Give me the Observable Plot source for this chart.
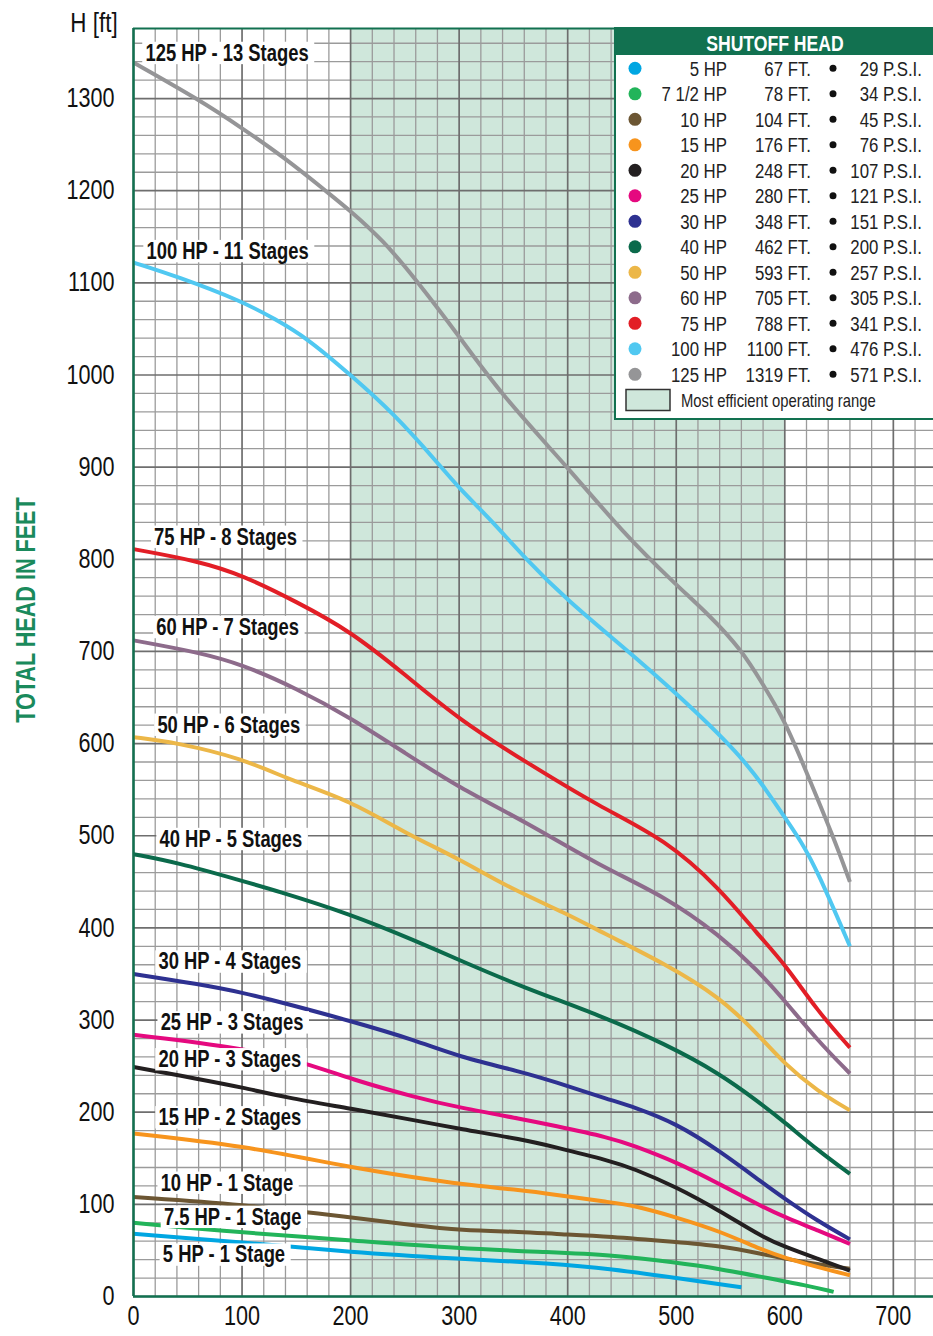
<!DOCTYPE html>
<html>
<head>
<meta charset="utf-8">
<script src="https://cdn.jsdelivr.net/npm/d3@7"></script>
<script src="https://cdn.jsdelivr.net/npm/@observablehq/plot@0.6"></script>
<style>
  html, body { margin: 0; padding: 0; background: #fff; }
  #chart { position: relative; width: 933px; height: 1336px; }
</style>
</head>
<body>
<div id="chart"></div>
<script>
// ---------- data (flow in GPM, head in feet) ----------
const series = ["5 HP","7.5 HP","10 HP","15 HP","20 HP","25 HP","30 HP","40 HP","50 HP","60 HP","75 HP","100 HP","125 HP"];
const colors = ["#00a6e2","#22b45a","#6c5633","#f7941d","#231f20","#e5097f","#2e3191","#0b6a4b","#ecb748","#8d6b8b","#e21e26","#50c8f1","#959597"];

const hp5   = [[0,68],[100,59],[200,48],[300,41],[385,36],[440,30],[500,20],[560,10]];
const hp7_5 = [[0,80],[70,72],[200,61],[300,52],[385,48],[440,45],[500,37],[540,30],[580,21],[620,12],[645,5]];
const hp10  = [[0,108],[100,100],[200,86],[260,77],[300,72],[360,70],[385,68],[440,65],[500,59],[540,55],[580,46],[600,41],[630,35],[660,30]];
const hp15  = [[0,177],[100,164],[200,140],[260,129],[300,122],[360,115],[385,111],[440,102],[460,99],[500,86],[540,71],[580,50],[600,42],[630,32],[660,23]];
const hp20  = [[0,249],[60,236],[100,227],[140,216],[200,204],[260,191],[300,182],[360,170],[385,163],[440,147],[460,139],[500,119],[540,93],[580,64],[600,54],[630,41],[660,28]];
const hp25  = [[0,284],[100,270],[160,253],[200,236],[260,216],[300,205],[360,192],[385,186],[440,172],[460,164],[500,146],[540,122],[580,97],[600,86],[630,72],[660,57]];
const hp30  = [[0,350],[60,339],[100,330],[140,318],[200,299],[260,278],[300,260],[360,243],[385,234],[440,213],[460,206],[500,188],[540,158],[580,123],[600,106],[630,82],[660,62]];
const hp40  = [[0,480],[40,471],[100,451],[130,441],[200,415],[260,386],[300,365],[360,335],[430,305],[490,274],[540,242],[575,212],[600,189],[630,159],[660,133]];
const hp50  = [[0,607],[40,601],[100,584],[145,560],[200,538],[250,503],[300,475],[345,444],[400,415],[430,396],[490,361],[540,325],[575,285],[600,252],[630,223],[660,202]];
const hp60  = [[0,712],[60,699],[100,686],[150,660],[200,628],[250,590],[300,552],[360,516],[430,467],[490,434],[540,392],[575,354],[600,321],[630,278],[660,242]];
const hp75  = [[0,811],[60,798],[100,783],[150,754],[200,722],[250,675],[300,626],[360,581],[430,531],[490,496],[540,443],[575,393],[600,361],[630,310],[660,270]];
const hp100 = [[0,1122],[40,1107],[100,1080],[130,1061],[160,1040],[200,1000],[240,958],[280,905],[300,877],[330,842],[360,802],[400,755],[450,706],[500,655],[560,587],[585,546],[600,520],[615,494],[630,462],[660,380]];
const hp125 = [[0,1339],[60,1299],[100,1268],[140,1235],[180,1197],[200,1178],[230,1146],[260,1104],[300,1042],[340,977],[400,900],[450,830],[500,772],[530,740],[560,702],[580,664],[600,625],[620,569],[645,498],[660,450]];
const curveList = [hp5,hp7_5,hp10,hp15,hp20,hp25,hp30,hp40,hp50,hp60,hp75,hp100,hp125];

// curve labels (anchored in data coordinates)
const labelText = ["125 HP - 13 Stages","100 HP - 11 Stages","75 HP - 8 Stages","60 HP - 7 Stages","50 HP - 6 Stages","40 HP - 5 Stages","30 HP - 4 Stages","25 HP - 3 Stages","20 HP - 3 Stages","15 HP - 2 Stages","10 HP - 1 Stage","7.5 HP - 1 Stage","5 HP - 1 Stage"];
const labelX = [11,12,19,21,22,24,23,25,23,23,25,28,27];
const labelY = [1349,1134,824,726,620,496,363,297,257,194,123,86,45];

// legend table
const legendHP  = ["5 HP","7 1/2 HP","10 HP","15 HP","20 HP","25 HP","30 HP","40 HP","50 HP","60 HP","75 HP","100 HP","125 HP"];
const legendFT  = ["67 FT.","78 FT.","104 FT.","176 FT.","248 FT.","280 FT.","348 FT.","462 FT.","593 FT.","705 FT.","788 FT.","1100 FT.","1319 FT."];
const legendPSI = ["29 P.S.I.","34 P.S.I.","45 P.S.I.","76 P.S.I.","107 P.S.I.","121 P.S.I.","151 P.S.I.","200 P.S.I.","257 P.S.I.","305 P.S.I.","341 P.S.I.","476 P.S.I.","571 P.S.I."];

const efficientRange = [200, 600];
const xDomain = [0, 737];
const yDomain = [0, 1376];
const xTicks = [0,100,200,300,400,500,600,700];
const yTicks = [0,100,200,300,400,500,600,700,800,900,1000,1100,1200,1300];

// ---------- build ----------
const GREEN = "#127150";
const SHADE = "#cfe7db";
const FONT = "'Liberation Sans', Arial, sans-serif";
const CONDENSE = 0.8;

const rows = curveList.flatMap((c, i) => c.map(([q, h]) => ({series: series[i], q, h})));
const labels = labelText.map((t, i) => ({t, x: labelX[i], y: labelY[i]}));
const gridX = d3.range(0, xDomain[1], 20);
const gridY = d3.range(0, yDomain[1], 20);

const chart = Plot.plot({
  width: 933,
  height: 1336,
  marginLeft: 133,
  marginRight: 0,
  marginTop: 28,
  marginBottom: 40,
  style: {fontFamily: FONT, fontSize: "27px", color: "#111", background: "white"},
  x: {domain: xDomain},
  y: {domain: yDomain},
  color: {domain: series, range: colors},
  marks: [
    Plot.rect([efficientRange], {x1: d => d[0], x2: d => d[1], y1: yDomain[0], y2: yDomain[1], fill: SHADE}),
    Plot.ruleX(gridX.filter(d => d % 100 !== 0), {stroke: "#9b9b9b", strokeWidth: 1.3}),
    Plot.ruleY(gridY.filter(d => d % 100 !== 0), {stroke: "#9b9b9b", strokeWidth: 1.3}),
    Plot.ruleX(gridX.filter(d => d % 100 === 0), {stroke: "#6e6e6e", strokeWidth: 1.7}),
    Plot.ruleY(gridY.filter(d => d % 100 === 0), {stroke: "#6e6e6e", strokeWidth: 1.7}),
    Plot.line(rows, {x: "q", y: "h", z: "series", stroke: "series", strokeWidth: 4, curve: "basis", strokeLinecap: "butt"}),
    Plot.text(labels, {x: "x", y: "y", text: "t", textAnchor: "start", fontSize: 23, fontWeight: "bold", fill: "#111"}),
    Plot.ruleX([xDomain[0]], {stroke: GREEN, strokeWidth: 2.5}),
    Plot.ruleY([yDomain[0]], {stroke: GREEN, strokeWidth: 2.5}),
    Plot.ruleY([yDomain[1]], {stroke: GREEN, strokeWidth: 2}),
    Plot.axisX({ticks: xTicks, tickSize: 0, tickPadding: 9, tickFormat: "d", fontSize: 27}),
    Plot.axisY({ticks: yTicks, tickSize: 0, tickPadding: 19, tickFormat: "d", fontSize: 27})
  ]
});

document.getElementById("chart").appendChild(chart);
const svg = d3.select(chart);

// axis titles
svg.append("text").attr("x", 94).attr("y", 22).attr("dy", "0.36em")
  .attr("text-anchor", "middle").attr("font-size", 28).attr("fill", "#111").text("H [ft]");
svg.append("text").attr("transform", "translate(25,610) rotate(-90)").attr("dy", "0.36em")
  .attr("text-anchor", "middle").attr("font-size", 27).attr("font-weight", "bold")
  .attr("fill", "#1a8a5c").text("TOTAL HEAD IN FEET");

// legend: shutoff head table
const lg = svg.append("g").attr("font-family", FONT);
lg.append("rect").attr("x", 615).attr("y", 28).attr("width", 320).attr("height", 391)
  .attr("fill", "white").attr("stroke", GREEN).attr("stroke-width", 2);
lg.append("rect").attr("x", 614).attr("y", 27).attr("width", 319).attr("height", 28).attr("fill", GREEN);
lg.append("text").attr("x", 775).attr("y", 43).attr("dy", "0.36em").attr("text-anchor", "middle")
  .attr("font-size", 22).attr("font-weight", "bold").attr("fill", "white").text("SHUTOFF HEAD");
legendHP.forEach((hp, i) => {
  const y = 68.3 + i * 25.5;
  lg.append("circle").attr("cx", 635).attr("cy", y).attr("r", 6.5).attr("fill", colors[i]);
  lg.append("text").attr("x", 727).attr("y", y).attr("dy", "0.36em").attr("text-anchor", "end")
    .attr("font-size", 21).attr("fill", "#222").text(hp);
  lg.append("text").attr("x", 811).attr("y", y).attr("dy", "0.36em").attr("text-anchor", "end")
    .attr("font-size", 21).attr("fill", "#222").text(legendFT[i]);
  lg.append("circle").attr("cx", 833).attr("cy", y).attr("r", 3.5).attr("fill", "#111");
  lg.append("text").attr("x", 922).attr("y", y).attr("dy", "0.36em").attr("text-anchor", "end")
    .attr("font-size", 21).attr("fill", "#222").text(legendPSI[i]);
});
lg.append("rect").attr("x", 626).attr("y", 389.5).attr("width", 44).attr("height", 21)
  .attr("fill", SHADE).attr("stroke", "#333").attr("stroke-width", 1.5);
lg.append("text").attr("x", 681).attr("y", 400).attr("dy", "0.36em").attr("text-anchor", "start")
  .attr("font-size", 18.5).attr("fill", "#222").text("Most efficient operating range");

// condense every text horizontally (the original uses a condensed typeface)
svg.selectAll("text").each(function () {
  const w = this.getComputedTextLength();
  if (!(w > 0)) return;
  const cw = w * CONDENSE;
  const anchor = getComputedStyle(this).textAnchor;
  const x0 = parseFloat(this.getAttribute("x")) || 0;
  const xs = anchor === "end" ? x0 - cw : anchor === "middle" ? x0 - cw / 2 : x0;
  this.setAttribute("x", (xs / CONDENSE).toFixed(2));
  this.setAttribute("text-anchor", "start");
  this.style.textAnchor = "start";
  const tr = this.getAttribute("transform") || "";
  this.setAttribute("transform", (tr + ` scale(${CONDENSE},1)`).trim());
});

// white boxes behind the curve labels
svg.selectAll('g[aria-label="text"] text').each(function () {
  const b = this.getBBox();
  const r = document.createElementNS("http://www.w3.org/2000/svg", "rect");
  r.setAttribute("x", b.x - 4);
  r.setAttribute("y", b.y + 2);
  r.setAttribute("width", b.width + 11);
  r.setAttribute("height", b.height - 3);
  r.setAttribute("fill", "white");
  const tr = this.getAttribute("transform");
  if (tr) r.setAttribute("transform", tr);
  this.parentNode.insertBefore(r, this);
});
</script>
</body>
</html>
